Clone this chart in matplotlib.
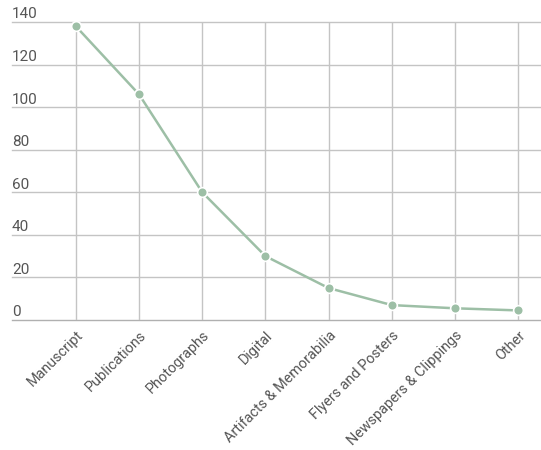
import matplotlib
matplotlib.use("Agg")
import matplotlib.pyplot as plt

# Dati
categorie = ["Manuscript", "Publications", "Photographs", "Digital",
             "Artifacts & Memorabilia", "Flyers and Posters",
             "Newspapers & Clippings", "Other"]
valori = [138, 106, 60, 30, 15, 7, 5.5, 4.5]
yticks = [0, 20, 40, 60, 80, 100, 120, 140]

plt.rcParams['font.family'] = ['Roboto', 'DejaVu Sans']

fig = plt.figure(figsize=(5.41, 4.5), dpi=100)
ax = fig.add_axes([12 / 541, 1 - 320 / 450, 529 / 541, 298 / 450])

verde = "#9dbfa6"
griglia = "#c4c4c4"
testo = "#555555"

x = list(range(len(categorie)))
ax.plot(x, valori, color=verde, linewidth=1.8, marker="o", markersize=7,
        markerfacecolor=verde, markeredgecolor="white", markeredgewidth=1.2,
        zorder=3, clip_on=False)

ax.set_xlim(-1.01, 7.36)
ax.set_ylim(0, 140)

# Griglia
for v in yticks:
    ax.axhline(v, color=griglia if v else "#b0b0b0", linewidth=1, zorder=1, clip_on=False)
for xi in x:
    ax.axvline(xi, color=griglia, linewidth=1, zorder=1)

# Etichette asse y sopra le linee
for v in yticks:
    ax.text(0.0, v + 0.3, str(v), transform=ax.get_yaxis_transform(),
            ha="left", va="bottom", fontsize=11, color=testo)

ax.set_yticks([])
ax.set_xticks(x)
ax.set_xticklabels(categorie, rotation=45, ha="right", va="top",
                   rotation_mode="anchor", fontsize=10.4, color=testo)
ax.tick_params(axis="x", length=0, pad=6)

for s in ax.spines.values():
    s.set_visible(False)

plt.savefig("out.png", dpi=100)
